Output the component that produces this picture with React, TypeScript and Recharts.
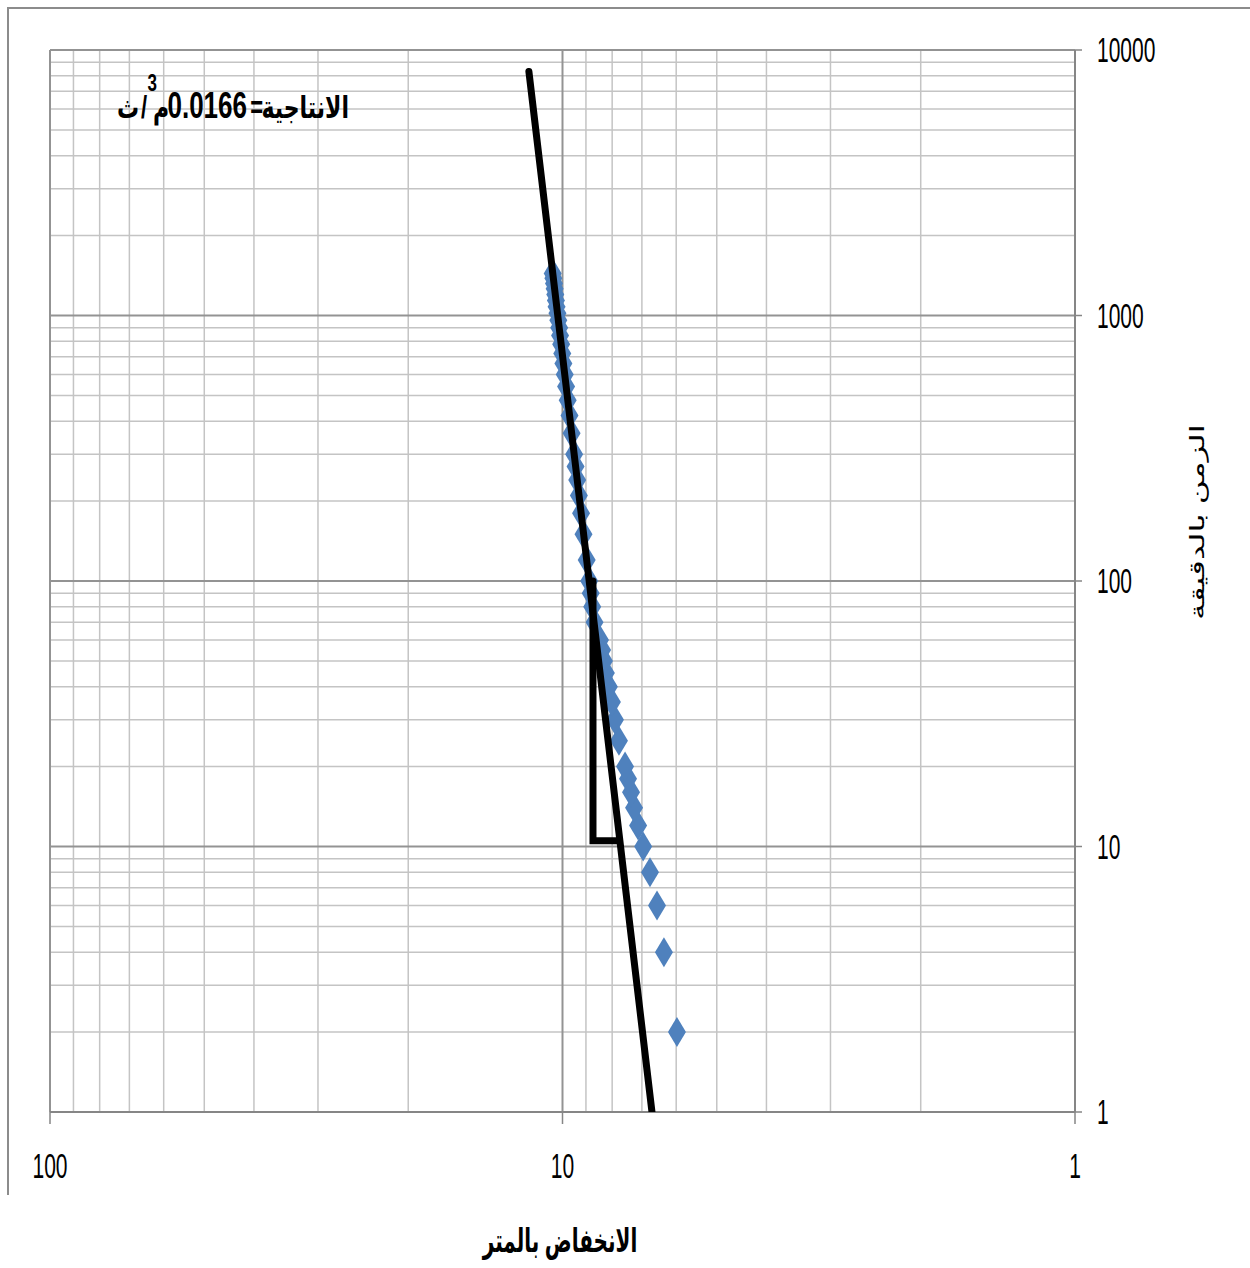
import { CartesianGrid, Scatter, ScatterChart, XAxis, YAxis } from 'recharts';

// time since pumping started (minutes) and the drawdown read for it (metres)
const timeMin = [
  2, 4, 6, 8, 10, 12, 14, 16, 18, 20, 25, 30, 35, 40, 45, 50, 55, 60, 70, 80, 90, 100, 120, 150, 180,
  210, 240, 270, 300, 360, 420, 480, 540, 600, 660, 720, 780, 840, 900, 960, 1020, 1080, 1140, 1200,
  1260, 1320, 1380, 1440,
];
const drawdownM = [
  5.98, 6.34, 6.54, 6.75, 6.96, 7.12, 7.25, 7.35, 7.45, 7.55, 7.76, 7.9, 8.01, 8.12, 8.23, 8.3, 8.37,
  8.45, 8.66, 8.75, 8.81, 8.87, 8.97, 9.1, 9.2, 9.29, 9.36, 9.43, 9.49, 9.6, 9.69, 9.77, 9.84, 9.9, 9.96,
  10.01, 10.06, 10.11, 10.15, 10.19, 10.23, 10.27, 10.3, 10.33, 10.36, 10.39, 10.42, 10.45,
];

// straight line drawn through the late data
const fitDrawdown = [11.63, 6.69];
const fitTime = [8300, 1];

// one log cycle step (100 -> 10 minutes)
const stepDrawdown = [8.72, 8.72, 7.75];
const stepTime = [100, 10.5, 10.5];

const xTicks = [100, 10, 1];
const yTicks = [1, 10, 100, 1000, 10000];
const xMinor = [2, 3, 4, 5, 6, 7, 8, 9, 20, 30, 40, 50, 60, 70, 80, 90];
const yMinor = [
  2, 3, 4, 5, 6, 7, 8, 9, 20, 30, 40, 50, 60, 70, 80, 90, 200, 300, 400, 500, 600, 700, 800, 900, 2000,
  3000, 4000, 5000, 6000, 7000, 8000, 9000,
];

const STRETCH = 1.65;
const FONT = 'Liberation Sans, Arial, DejaVu Sans, sans-serif';

const toPoints = (xs: number[], ys: number[]) => xs.map((x, i) => ({ x, y: ys[i] }));

const Diamond = (props: any) => {
  const { cx, cy } = props;
  if (cx == null || cy == null) return null;
  return (
    <path
      d={`M${cx},${cy - 15}L${cx + 9},${cy}L${cx},${cy + 15}L${cx - 9},${cy}Z`}
      fill="#4f81bd"
    />
  );
};

const NoDot = () => null;

const XTick = ({ x, y, payload }: any) => (
  <g transform={`translate(${x},${y + 52}) scale(1,${STRETCH})`}>
    <text textAnchor="middle" fontSize={21} fontFamily={FONT} fill="#000">
      {payload.value}
    </text>
  </g>
);

const YTick = ({ x, y, payload }: any) => (
  <g transform={`translate(${x + 13},${y}) scale(1,${STRETCH})`}>
    <text textAnchor="start" y={7.5} fontSize={21} fontFamily={FONT} fill="#000">
      {payload.value}
    </text>
  </g>
);

export default function App() {
  return (
    <div style={{ position: 'absolute', left: 0, top: 0, width: 1250, height: 1268, background: '#fff' }}>
      <div
        style={{
          position: 'absolute',
          left: 7,
          top: 7,
          width: 1243,
          height: 1188,
          borderTop: '2px solid #8c8c8c',
          borderLeft: '2px solid #8c8c8c',
          boxSizing: 'border-box',
        }}
      />
      <ScatterChart
        width={1250}
        height={1268}
        margin={{ top: 50, right: 75, bottom: 96, left: 50 }}
        style={{ position: 'absolute', left: 0, top: 0 }}
      >
        <CartesianGrid
          stroke="#c4c4c4"
          strokeWidth={1.5}
          verticalValues={xMinor}
          horizontalValues={yMinor}
        />
        <CartesianGrid
          stroke="#939393"
          strokeWidth={2}
          verticalValues={xTicks}
          horizontalValues={yTicks}
        />
        <XAxis
          type="number"
          dataKey="x"
          scale="log"
          domain={[1, 100]}
          reversed
          allowDataOverflow
          ticks={xTicks}
          interval={0}
          height={60}
          axisLine={{ stroke: '#868686', strokeWidth: 2 }}
          tickLine={{ stroke: '#868686', strokeWidth: 1.5 }}
          tickSize={12}
          tick={<XTick />}
        />
        <YAxis
          type="number"
          dataKey="y"
          orientation="right"
          scale="log"
          domain={[1, 10000]}
          allowDataOverflow
          ticks={yTicks}
          interval={0}
          width={100}
          axisLine={{ stroke: '#868686', strokeWidth: 2 }}
          tickLine={{ stroke: '#868686', strokeWidth: 1.5 }}
          tickSize={7}
          tick={<YTick />}
        />
        <Scatter data={toPoints(drawdownM, timeMin)} shape={<Diamond />} isAnimationActive={false} />
        <Scatter
          data={toPoints(fitDrawdown, fitTime)}
          shape={<NoDot />}
          line={{ stroke: '#000', strokeWidth: 7, strokeLinecap: 'round' }}
          isAnimationActive={false}
        />
        <Scatter
          data={toPoints(stepDrawdown, stepTime)}
          shape={<NoDot />}
          line={{ stroke: '#000', strokeWidth: 7, strokeLinecap: 'round' }}
          isAnimationActive={false}
        />
      </ScatterChart>
      <svg
        width={1250}
        height={1268}
        style={{ position: 'absolute', left: 0, top: 0, pointerEvents: 'none' }}
      >
        <g fontFamily={FONT} fill="#000">
          {/* discharge note: pieces placed one by one, right to left */}
          <g transform="translate(0,118) scale(1,1.4)" fontWeight="bold">
            <text>
              <tspan x={349} y={0} textAnchor="end" fontSize={22}>الانتاجية</tspan>
              <tspan x={263} y={0} textAnchor="end" fontSize={22}>=</tspan>
              <tspan x={247} y={0} textAnchor="end" fontSize={26}>0.0166</tspan>
              <tspan x={169} y={0} textAnchor="end" fontSize={22}>م</tspan>
              <tspan x={157} y={-19} textAnchor="end" fontSize={17}>3</tspan>
              <tspan x={147} y={0} textAnchor="end" fontSize={22}>/</tspan>
              <tspan x={139} y={0} textAnchor="end" fontSize={22}>ث</tspan>
            </text>
          </g>
          <g transform={`translate(560,1252) scale(1,${STRETCH})`}>
            <text textAnchor="middle" fontSize={20} fontWeight="bold">الانخفاض بالمتر</text>
          </g>
          <g transform={`translate(1204,522) scale(1,${STRETCH}) rotate(-90)`}>
            <text textAnchor="middle" fontSize={20}>الزمن بالدقيقة</text>
          </g>
        </g>
      </svg>
    </div>
  );
}
